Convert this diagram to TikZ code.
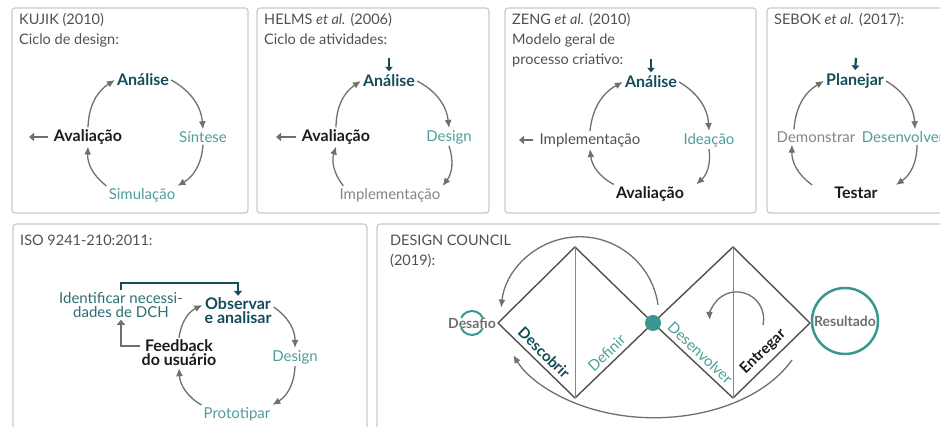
\documentclass[tikz,border=0pt]{standalone}
\usepackage{fontspec}
\setmainfont{Lato}
\usetikzlibrary{arrows.meta}
\definecolor{dteal}{HTML}{134C5A}
\definecolor{lteal}{HTML}{4E9E9A}
\definecolor{mteal}{HTML}{2D6E76}
\definecolor{ring}{HTML}{3A9690}
\definecolor{agray}{HTML}{6F6F6F}
\definecolor{tgray}{HTML}{505050}
\definecolor{igray}{HTML}{858585}
\definecolor{bgray}{HTML}{CACACA}
\definecolor{evcol}{HTML}{1B1B1B}
\newcommand\labfont{\fontsize{15}{14}\selectfont}
\newcommand\boldlab{\fontsize{16}{14}\selectfont\bfseries}
\newcommand\ttlfont{\fontsize{14.5}{20}\selectfont}

\begin{document}
\begin{tikzpicture}[x=1pt,y=1pt,
    every node/.style={inner sep=2pt},
    box/.style={draw=bgray,line width=1.2pt,rounded corners=3pt},
    ttl/.style={anchor=north west,align=left,inner sep=0pt,text=tgray,font=\ttlfont},
    an/.style={text=dteal,font=\boldlab,align=center},
    ev/.style={text=evcol,font=\boldlab,align=center},
    lt/.style={text=lteal,font=\labfont},
    gr/.style={text=igray,font=\labfont},
    dg/.style={text=tgray,font=\labfont},
    cyc/.style={draw=agray,line width=1.3pt,-{Latex[length=8pt,width=7pt]},bend left=28},
    outarr/.style={draw=agray,line width=2.2pt,-{Triangle[length=5pt,width=8pt]},shorten <=4pt},
    inarr/.style={draw=dteal,line width=2.2pt,-{Triangle[length=4.5pt,width=7.5pt]},shorten >=1.5pt},
    brk/.style={draw=dteal,line width=2.4pt,-{Triangle[length=5pt,width=8pt]}},
    fbk/.style={draw=agray,line width=2.4pt,-{Triangle[length=5pt,width=8pt]}},
    dm/.style={draw=tgray,line width=1.4pt,line join=round},
    vl/.style={draw=igray,line width=1pt},
    dc/.style={text=agray,font=\fontsize{14}{14}\selectfont\bfseries},
    edg/.style={sloped,above=3pt,font=\labfont},
    edgb/.style={sloped,above=3pt,font=\fontsize{15}{14}\selectfont\bfseries},
  ]
    \clip (0,0) rectangle (940,427);

    % frames
    \draw[box] (12,214) rectangle (248,419);
    \draw[box] (257,214) rectangle (489,419);
    \draw[box] (505,214) rectangle (756,419);
    \draw[box] (767,214) rectangle (960,419);
    \draw[box] (13,-20) rectangle (367,203);
    \draw[box] (377,-20) rectangle (960,203);

    % KUJIK
    \node[ttl] (H1) at (19,414) {KUJIK (2010)\\Ciclo de design:};
    \node[an] (A1) at (143,347) {Análise};
    \node[lt] (S1) at (203,290) {Síntese};
    \node[lt] (M1) at (142,232) {Simulação};
    \node[ev] (V1) at (88,290) {Avaliação};
    \coordinate (o1) at (29,290);

    \draw[cyc] (V1.north) to (A1.west);
    \draw[cyc] (A1.east) to (S1.north);
    \draw[cyc] (S1.south) to (M1.north east);
    \draw[cyc] (M1.north west) to (V1.south);
    \draw[outarr] (V1.west) -- (o1);

    % HELMS
    \node[ttl] (H2) at (264,414) {HELMS \textit{et al.} (2006)\\Ciclo de atividades:};
    \node[an] (A2) at (389,346) {Análise};
    \node[lt] (D2) at (449,290) {Design};
    \node[gr] (I2) at (390,232) {Implementação};
    \node[ev] (V2) at (336,290) {Avaliação};
    \coordinate (i2) at (389,369);
    \coordinate (o2) at (276,290);

    \draw[inarr] (i2) -- (A2.north);
    \draw[cyc] (V2.north) to (A2.west);
    \draw[cyc] (A2.east) to (D2.north);
    \draw[cyc] (D2.south) to (I2.north east);
    \draw[cyc] ([xshift=6]I2.north west) to (V2.south);
    \draw[outarr] (V2.west) -- (o2);

    % ZENG
    \node[ttl] (H3) at (512,414) {ZENG \textit{et al.} (2010)\\Modelo geral de\\processo criativo:};
    \node[an] (A3) at (651,345) {Análise};
    \node[lt] (D3) at (709,287) {Ideação};
    \node[ev] (V3) at (650,233) {Avaliação};
    \node[dg] (I3) at (590,287) {Implementação};
    \coordinate (i3) at (651,368);
    \coordinate (o3) at (519,287);

    \draw[inarr] (i3) -- (A3.north);
    \draw[cyc] (I3.north) to (A3.west);
    \draw[cyc] (A3.east) to (D3.north);
    \draw[cyc] (D3.south) to ([xshift=10]V3.north east);
    \draw[cyc] (V3.north west) to (I3.south);
    \draw[outarr] (I3.west) -- (o3);

    % SEBOK
    \node[ttl] (H4) at (774,414) {SEBOK \textit{et al.} (2017):};
    \node[an] (A4) at (855,346) {Planejar};
    \node[lt] (D4) at (903,290) {Desenvolver};
    \node[gr] (E4) at (816,290) {Demonstrar};
    \node[ev] (V4) at (856,234) {Testar};
    \coordinate (i4) at (856,369);

    \draw[inarr] (i4) -- (A4.north);
    \draw[cyc] ([xshift=-22]E4.north) to (A4.west);
    \draw[cyc] (A4.east) to ([xshift=12]D4.north);
    \draw[cyc] ([xshift=14]D4.south) to ([xshift=16]V4.north east);
    \draw[cyc] ([xshift=-20]V4.north west) to ([xshift=-24]E4.south);

    % ISO
    \node[ttl] (H5) at (20,192) {ISO 9241-210:2011:};
    \node[text=mteal,font=\fontsize{15}{14}\selectfont,align=center] (N5) at (121,122) {Identificar necessi-\\dades de DCH};
    \node[an] (O5) at (238,116) {Observar\\e analisar};
    \node[ev] (F5) at (179,74) {Feedback\\do usuário};
    \node[lt] (D5) at (295,70) {Design};
    \node[lt] (P5) at (237,13) {Prototipar};

    \draw[brk] (N5.north) -- ++(0,7) -| (O5.north);
    \draw[fbk] ([yshift=7]F5.west) -| (N5.south);
    \draw[cyc] (F5.north) to ([yshift=6]O5.west);
    \draw[cyc] ([yshift=4]O5.east) to (D5.north);
    \draw[cyc] (D5.south) to (P5.north east);
    \draw[cyc] (P5.north west) to (F5.south);

    % DESIGN COUNCIL
    \node[ttl] (H6) at (390,192) {DESIGN COUNCIL\\(2019):};
    \coordinate (L) at (498,104);
    \coordinate (Ta) at (575,180);
    \coordinate (Ba) at (575,29);
    \coordinate (M) at (653,104);
    \coordinate (Tb) at (733,180);
    \coordinate (Bb) at (733,29);
    \coordinate (R) at (810,104);

    \draw[dm] (L) -- (Ta) -- (M) -- (Ba) -- cycle;
    \draw[dm] (M) -- (Tb) -- (R) -- (Bb) -- cycle;
    \draw[vl] (Ta) -- (Ba);
    \draw[vl] (Tb) -- (Bb);

    \path (L) -- node[edgb,text=dteal] (dsc) {Descobrir} (Ba);
    \path (Ba) -- node[edg,text=lteal] (dfn) {Definir} (M);
    \path (M) -- node[edg,text=lteal] (dsv) {Desenvolver} (Bb);
    \path (Bb) -- node[edgb,text=evcol] (ent) {Entregar} (R);

    \node[circle,fill=ring,minimum size=16,inner sep=0pt] (Dot) at (M) {};
    \node[circle,draw=ring,line width=2.5pt,minimum size=66,inner sep=0pt,dc] (Rs) at (845,106) {Resultado};
    \node[dc] (Df) at (472,104) {Desafio};
    \draw[ring,line width=2pt] ([shift={(Df.center)}]25:12) arc[start angle=25,end angle=155,radius=12];
    \draw[ring,line width=2pt] ([shift={(Df.center)}]205:12) arc[start angle=205,end angle=335,radius=12];

    \draw[cyc] ([shift={(5,10)}]Dot.north) arc[start angle=8,end angle=174,radius=79];
    \draw[cyc] ([shift={(-18,-37)}]R) arc[start angle=-25,end angle=-158,x radius=152,y radius=100];
    \draw[cyc] ([shift={(30,-78)}]Tb) arc[start angle=-13,end angle=182,radius=27];
\end{tikzpicture}
\end{document}
